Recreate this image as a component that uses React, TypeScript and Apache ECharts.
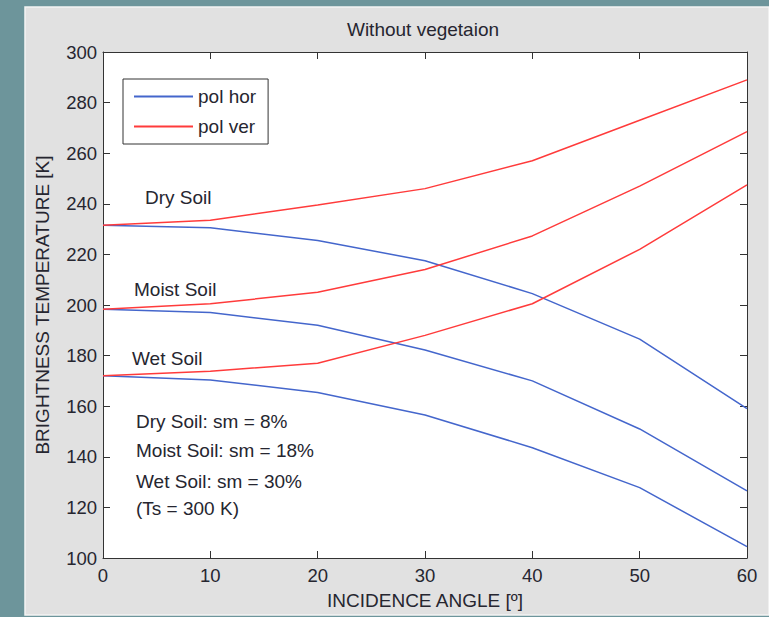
import React, { useEffect, useRef } from "react";
import * as echarts from "echarts";

const angles = [0, 10, 20, 30, 40, 50, 60];
const dryHor = [231.5, 230.5, 225.5, 217.5, 204.5, 186.5, 159];
const dryVer = [231.5, 233.5, 239.5, 246, 257, 273, 289];
const moistHor = [198.3, 197, 192, 182.2, 170, 151, 126.5];
const moistVer = [198.3, 200.5, 205, 214, 227.3, 247, 268.5];
const wetHor = [172, 170.4, 165.4, 156.5, 143.6, 127.8, 104.5];
const wetVer = [172, 173.8, 177, 188, 200.5, 222, 247.5];

const BLUE = "#4466cc";
const RED = "#ff3b3b";
const FONT = "Liberation Sans, Arial, sans-serif";
const TXT = "#262630";

const pairs = (ys: number[]) => angles.map((a, i) => [a, ys[i]]);

export default function App() {
  const ref = useRef<HTMLDivElement>(null);
  useEffect(() => {
    if (!ref.current) return;
    const chart = echarts.init(ref.current, undefined, { renderer: "svg" });
    const mk = (name: string, ys: number[], color: string) => ({
      type: "line",
      name,
      data: pairs(ys),
      symbol: "none",
      lineStyle: { color, width: 1.5 },
      itemStyle: { color },
      z: color === RED ? 3 : 2,
    });
    const axisLine = () => ({ show: true, onZero: false, lineStyle: { color: "#333", width: 1 } });
    const tick = () => ({ show: true, inside: true, length: 7, lineStyle: { color: "#333" } });
    const textAnn = (text: string, x: number, y: number) => ({
      type: "text",
      x,
      y,
      style: { text, fill: TXT, font: `19px ${FONT}`, textVerticalAlign: "middle" },
      z: 10,
    });
    chart.setOption({
      animation: false,
      backgroundColor: "#6d959b",
      title: {
        text: "Without vegetaion",
        left: 423,
        top: 20,
        textAlign: "center",
        padding: 0,
        textStyle: { fontFamily: FONT, fontSize: 19, fontWeight: "normal", color: TXT },
      },
      grid: {
        left: 103,
        top: 52,
        right: 22,
        bottom: 59,
        show: true,
        backgroundColor: "#ffffff",
        borderWidth: 0,
      },
      legend: {
        orient: "vertical",
        left: 123,
        top: 79,
        padding: [8, 12, 8, 11],
        icon: "rect",
        itemWidth: 59,
        itemHeight: 2,
        itemGap: 11,
        borderColor: "#333",
        borderWidth: 1,
        backgroundColor: "#ffffff",
        data: ["pol hor", "pol ver"],
        textStyle: { fontFamily: FONT, fontSize: 19, color: TXT },
      },
      xAxis: [
        {
          type: "value",
          min: 0,
          max: 60,
          interval: 10,
          name: "INCIDENCE ANGLE [º]",
          nameLocation: "middle",
          nameGap: 33,
          nameTextStyle: { fontFamily: FONT, fontSize: 19, color: TXT },
          axisLine: axisLine(),
          axisTick: tick(),
          axisLabel: { fontFamily: FONT, fontSize: 18.5, color: TXT, margin: 8 },
          splitLine: { show: false },
        },
        {
          type: "value",
          position: "top",
          min: 0,
          max: 60,
          interval: 10,
          axisLine: axisLine(),
          axisTick: tick(),
          axisLabel: { show: false },
          splitLine: { show: false },
        },
      ],
      yAxis: [
        {
          type: "value",
          min: 100,
          max: 300,
          interval: 20,
          name: "BRIGHTNESS TEMPERATURE [K]",
          nameLocation: "middle",
          nameGap: 51,
          nameTextStyle: { fontFamily: FONT, fontSize: 19, color: TXT },
          axisLine: axisLine(),
          axisTick: tick(),
          axisLabel: { fontFamily: FONT, fontSize: 18.5, color: TXT, margin: 6 },
          splitLine: { show: false },
        },
        {
          type: "value",
          position: "right",
          min: 100,
          max: 300,
          interval: 20,
          axisLine: axisLine(),
          axisTick: tick(),
          axisLabel: { show: false },
          splitLine: { show: false },
        },
      ],
      graphic: [
        {
          type: "rect",
          shape: { x: 25, y: 7, width: 744, height: 608 },
          style: { fill: "#e1e1e1", stroke: "#f4f4f4", lineWidth: 1.5 },
          z: -100,
          silent: true,
        },
        textAnn("Dry Soil", 145, 197),
        textAnn("Moist Soil", 134, 289),
        textAnn("Wet Soil", 132, 358),
        textAnn("Dry Soil: sm = 8%", 136, 421),
        textAnn("Moist Soil: sm = 18%", 136, 450),
        textAnn("Wet Soil: sm = 30%", 136, 481),
        textAnn("(Ts = 300 K)", 136, 508),
      ],
      series: [
        mk("pol hor", dryHor, BLUE),
        mk("pol hor", moistHor, BLUE),
        mk("pol hor", wetHor, BLUE),
        mk("pol ver", dryVer, RED),
        mk("pol ver", moistVer, RED),
        mk("pol ver", wetVer, RED),
      ],
    });
    return () => chart.dispose();
  }, []);
  return (
    <div
      ref={ref}
      style={{ position: "absolute", left: 0, top: 0, width: 769, height: 617 }}
    />
  );
}
